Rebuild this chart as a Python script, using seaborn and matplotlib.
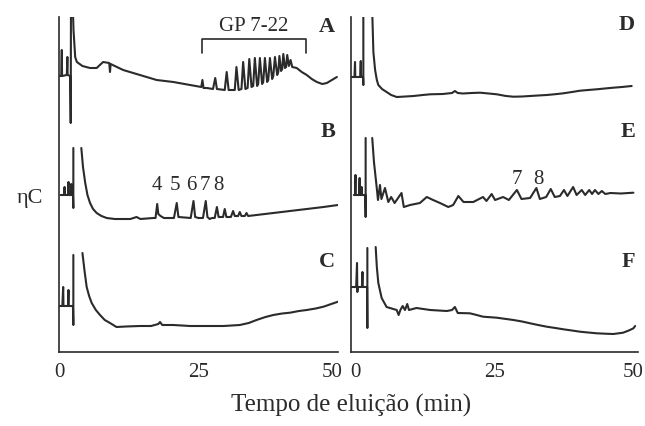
import pandas as pd
import matplotlib
matplotlib.use("Agg")
import matplotlib.pyplot as plt
import matplotlib.transforms as mtransforms
import seaborn as sns

# tempo (min) e sinal (unid. arbitrárias)
t_A = [0.0, 0.4, 0.5, 0.55, 1.4, 1.5, 1.55, 2.0, 2.1, 2.15, 2.4, 2.6, 2.9, 3.2, 4.2, 5.56, 6.75, 7.9, 9.0, 9.14, 9.25,
       11.5, 14.5, 17.5, 20.5, 23.5, 25.5, 25.7, 25.9, 26.5, 27.6, 28.0, 28.3, 29.7, 30.05, 30.4, 31.5, 31.8, 32.2,
       32.7, 33.0, 33.4, 33.8, 34.1, 34.5, 34.8, 35.1, 35.5, 35.7, 36.0, 36.4, 36.6, 36.9, 37.3, 37.5, 37.8, 38.2,
       38.4, 38.7, 39.1, 39.3, 39.5, 39.8, 40.0, 40.2, 40.5, 40.7, 40.9, 41.2, 41.5, 41.8, 42.6, 43.5, 44.4, 45.3,
       46.2, 47.2, 48.0, 48.9, 49.8]
y_A = [276, 276, 302, 276, 277, 295, 277, 276, 229, 360, 360, 322, 295, 290, 286, 284, 284, 290, 289, 280, 288,
       282, 277, 272, 270, 267, 265, 272, 264, 264, 263, 274, 263, 262, 280, 262, 262, 285, 262,
       263, 290, 263, 264, 293, 265, 266, 294, 266, 268, 294, 268, 270, 294, 270, 272, 294, 273,
       276, 295, 277, 280, 296, 281, 283, 298, 284, 285, 297, 286, 292, 285, 284, 280, 277, 273,
       270, 268, 269, 272, 275]
p_A = [0] * len(t_A)

t_B = [0.3, 0.9, 1.0, 1.05, 1.6, 1.7, 1.75, 2.1, 2.2, 2.25, 2.5, 2.57, 2.57,
       4.0, 4.3, 4.7, 5.1, 5.56, 6.1, 6.75, 7.6, 8.55, 10.0, 11.5, 12.8, 13.9, 14.6, 16.9, 17.3, 17.6, 17.8, 18.2,
       18.8, 20.6, 21.1, 21.4, 23.6, 24.1, 24.4, 25.0, 25.8, 26.3, 26.6, 27.0, 27.4, 27.9, 28.3, 28.6, 29.4, 29.7,
       30.0, 30.8, 31.2, 31.5, 32.1, 32.4, 32.7, 33.3, 33.6, 33.9, 35.4, 36.9, 38.4, 39.9, 41.4, 42.9, 44.4, 45.9,
       47.4, 48.7, 50.0]
y_B = [157, 157, 165, 157, 157, 170, 157, 157, 168, 157, 157, 144, 204,
       204, 185, 169, 157, 149, 143, 139, 136, 134, 133, 133, 133, 135, 133, 134, 134, 148, 138, 136,
       134, 134, 149, 135, 134, 151, 135, 134, 134, 151, 135, 133, 134, 134, 145, 135, 135, 143,
       135, 135, 141, 136, 136, 140, 136, 136, 139, 136, 137, 138, 139, 140, 141, 142, 143, 144,
       145, 146, 147]
p_B = [0] * 13 + [1] * (len(t_B) - 13)

t_C = [0.0, 0.6, 0.75, 0.8, 1.6, 1.7, 1.75, 2.5, 2.57, 2.57,
       4.2, 4.6, 4.96, 5.4, 5.86, 6.6, 7.35, 8.2, 9.14, 10.3, 12.0, 14.5, 16.5, 17.8, 18.1, 18.5, 20.5, 23.5,
       26.5, 29.5, 32.4, 34.0, 35.4, 37.0, 38.4, 40.0, 41.4, 43.0, 44.4, 46.0, 47.4, 48.8, 50.0]
y_C = [46, 46, 65, 46, 46, 62, 46, 46, 27, 97,
       99, 80, 65, 56, 49, 42, 37, 32, 29, 25, 25.5, 26, 26, 28, 30, 27, 27, 26,
       26, 26, 27, 29, 32, 35, 37, 38.5, 39.3, 41, 42, 43.5, 45.3, 48, 50.3]
p_C = [0] * 10 + [1] * (len(t_C) - 10)

t_D = [0.0, 0.6, 0.7, 0.75, 1.6, 1.7, 1.75, 2.1, 2.15, 2.15, 3.6, 3.9, 4.2, 4.5, 4.76, 5.4, 6.2, 7.0, 7.96, 9.5,
       10.9, 12.5, 13.8, 16.0, 17.6, 18.1, 18.6, 19.5, 21.0, 22.5, 24.0, 25.4, 27.0, 28.3, 29.8, 31.2, 32.6, 34.1,
       35.6, 37.0, 38.5, 39.9, 41.3, 42.8, 44.2, 45.7, 47.2, 48.9]
y_D = [275, 275, 290, 275, 275, 291, 275, 275, 267, 360, 360, 300, 282, 272, 267, 263, 260, 257, 255, 255.5,
       256, 257, 257.7, 258, 259, 261, 259, 258.5, 259, 259.3, 258.5, 257.7, 256, 255.3, 255.5, 256, 256.5, 257,
       257.8, 258.7, 260, 261.3, 262, 262.7, 263.5, 264.3, 265, 266]
p_D = [0] * len(t_D)

t_E = [0.5, 0.7, 0.78, 0.82, 1.4, 1.5, 1.55, 1.8, 1.85, 1.9, 2.5, 2.55, 2.55,
       3.7, 4.0, 4.47, 4.7, 5.05, 5.3, 5.92, 6.5, 7.0, 7.6, 8.8, 9.2, 10.3, 12.0, 13.2, 14.3, 15.5, 16.95, 17.8,
       18.7, 19.6, 21.3, 23.0, 23.6, 24.5, 25.1, 26.5, 27.5, 28.9, 29.7, 31.2, 32.3, 32.9, 34.0, 34.8, 35.5,
       36.4, 37.1, 37.7, 38.7, 39.3, 40.2, 40.8, 41.5, 42.0, 42.5, 43.1, 43.7, 44.3, 45.2, 47.0, 49.2]
y_E = [157, 157, 177, 157, 157, 174, 157, 157, 165, 157, 157, 135, 214,
       214, 190, 165, 152, 167, 153, 164, 150, 155, 149, 159, 145, 147, 149, 155, 152, 149, 145, 147,
       156, 150, 150, 155, 151, 158, 152, 155, 152, 162, 153, 154, 164, 153, 155, 163, 155,
       156, 162, 156, 165, 157, 162, 157, 162, 158, 162, 158, 161, 158, 159, 158.5, 159.3]
p_E = [0] * 13 + [1] * (len(t_E) - 13)

t_F = [0.0, 0.9, 1.05, 1.1, 1.2, 1.9, 2.0, 2.05, 2.8, 2.85, 2.85,
       4.3, 4.5, 4.76, 5.34, 6.2, 7.96, 8.3, 8.6, 9.0, 9.4, 9.8, 10.1, 11.4, 13.8, 16.7, 17.6, 18.1, 18.6, 20.7,
       21.9, 23.0, 25.4, 28.3, 29.8, 31.2, 32.6, 34.1, 35.6, 37.0, 38.5, 39.9, 41.3, 42.8, 44.3, 45.7, 47.4,
       48.4, 49.2, 49.5]
y_F = [65, 65, 89, 60, 65, 65, 80, 65, 65, 24, 104,
       105, 85, 69, 54, 45, 42, 37, 42, 46, 42, 48, 42, 44, 42, 41, 42, 45, 39, 38.7,
       37, 35.3, 34.3, 32, 30.5, 28.7, 27, 25.3, 24, 22.7, 21.5, 20.3, 19.5, 18.7, 18.3, 18, 19.3,
       21.5, 23.7, 26]
p_F = [0] * 11 + [1] * (len(t_F) - 11)

picos_B = ["4", "5", "6", "7", "8"]
t_picos_B = [17.5, 20.8, 23.8, 26.2, 28.5]
picos_E = ["7", "8"]
t_picos_E = [28.9, 32.6]
gp_range = [25.7, 44.2]
xticks = [0, 25, 50]

# %%
sns.set_style("white")
plt.rcParams['font.family'] = ['Liberation Serif', 'DejaVu Serif']
cor = '#2b2b2b'

fig = plt.figure(figsize=(6.45, 4.26), dpi=100)
ax1 = fig.add_axes([59 / 645, 74 / 426, 279 / 645, 335 / 426])
ax2 = fig.add_axes([351 / 645, 74 / 426, 287 / 645, 335 / 426])

traces = {
    ax1: [("A", t_A, y_A, p_A), ("B", t_B, y_B, p_B), ("C", t_C, y_C, p_C)],
    ax2: [("D", t_D, y_D, p_D), ("E", t_E, y_E, p_E), ("F", t_F, y_F, p_F)],
}
pos_letra = {"A": 325, "B": 220, "C": 90, "D": 327, "E": 220, "F": 90}

for ax, lista in traces.items():
    for nome, t, y, p in lista:
        df = pd.DataFrame({"t": t, "y": y, "parte": p})
        sns.lineplot(data=df, x="t", y="y", units="parte", estimator=None, sort=False,
                     color=cor, linewidth=1.5, ax=ax)
        ax.text(49.5, pos_letra[nome], nome, fontsize=16, fontweight='bold', color=cor,
                ha='right', va='center')
    ax.set_xlim(0, 50)
    ax.set_ylim(0, 335)
    ax.set_xticks(xticks)
    ax.set_xticklabels([str(v) for v in xticks])
    ax.set_yticks([])
    ax.set_xlabel("")
    ax.set_ylabel("")
    for s in ["top", "right"]:
        ax.spines[s].set_visible(False)
    for s in ["left", "bottom"]:
        ax.spines[s].set_color(cor)
        ax.spines[s].set_linewidth(1.2)
    ax.tick_params(axis='x', direction='inout', length=10, width=1.2, color=cor,
                   labelsize=15, labelcolor=cor, pad=3)
    ax.patch.set_alpha(0)

# afastar "50" e "0" na junção dos painéis, como no original
desloc = {(ax1, 2): -6, (ax2, 0): 4, (ax2, 2): -5}
for (ax, i), dx in desloc.items():
    lbl = ax.get_xticklabels()[i]
    lbl.set_transform(lbl.get_transform() + mtransforms.ScaledTranslation(dx / 100, 0, fig.dpi_scale_trans))

# rótulos dos picos
for lab, t in zip(picos_B, t_picos_B):
    ax1.text(t, 167, lab, fontsize=15, color=cor, ha='center', va='center')
for lab, t in zip(picos_E, t_picos_E):
    ax2.text(t, 172, lab, fontsize=15, color=cor, ha='center', va='center')

# colchete GP 7-22
ax1.plot([gp_range[0], gp_range[0], gp_range[1], gp_range[1]], [298.7, 312.7, 312.7, 298.7],
         color=cor, linewidth=1.2)
ax1.text(sum(gp_range) / 2, 316, "GP 7-22", fontsize=15, color=cor, ha='center', va='bottom')

fig.text(30 / 645, 1 - 198 / 426, "ηC", fontsize=16, color=cor, ha='center', va='center')
fig.text(351 / 645, 1 - 405 / 426, "Tempo de eluição (min)", fontsize=18, color=cor,
         ha='center', va='center')

plt.savefig("out.png", dpi=100)
